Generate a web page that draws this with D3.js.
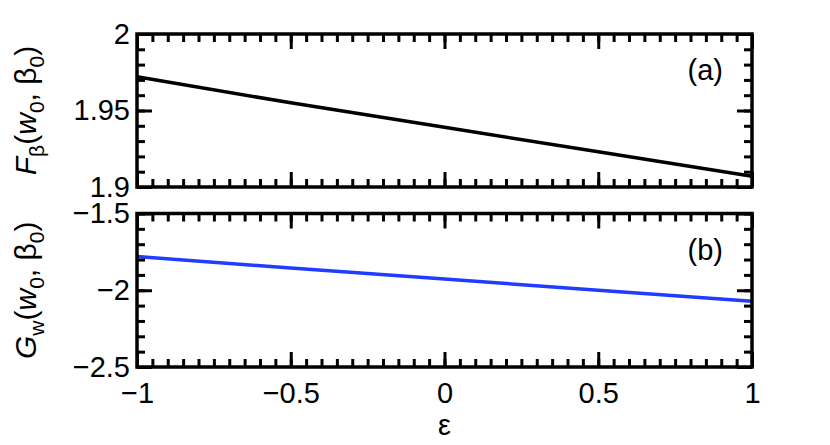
<!DOCTYPE html>
<html lang="en">
<head>
<meta charset="utf-8">
<title>F and G vs epsilon</title>
<script src="https://d3js.org/d3.v7.min.js"></script>
<style>
  body { margin: 0; background: #fff; }
  text { font-family: "Liberation Sans", Arial, sans-serif; fill: #000; }
</style>
</head>
<body>
<div id="chart"></div>
<script>
// values
var eps = [-1, -0.5, 0, 0.5, 1];
var fBeta = [1.972, 1.955, 1.939, 1.923, 1.907];
var gW = [-1.78, -1.855, -1.927, -2.0, -2.072];

var xTicks = [-1, -0.5, 0, 0.5, 1];
var xMinor = d3.range(-1, 1.0001, 0.05);
var fTicks = [1.9, 1.95, 2];
var fMinor = d3.range(1.9, 2.0001, 0.01);
var gTicks = [-2.5, -2, -1.5];
var gMinor = d3.range(-2.5, -1.4999, 0.1);

var width = 830, height = 445;
var left = 137, right = 752;

var svg = d3.select('#chart').append('svg')
  .attr('width', width)
  .attr('height', height);

var x = d3.scaleLinear().domain([-1, 1]).range([left, right]);

var panels = [
  { y: d3.scaleLinear().domain([1.9, 2]).range([187, 34]),
    vals: fBeta, ticks: fTicks, minor: fMinor, color: '#000', tag: '(a)',
    sym: 'F', sub: 'β' },
  { y: d3.scaleLinear().domain([-2.5, -1.5]).range([367, 213.5]),
    vals: gW, ticks: gTicks, minor: gMinor, color: '#1f3cff', tag: '(b)',
    sym: 'G', sub: 'w' }
];

panels.forEach(function(p, i) {
  var top = p.y.range()[1], bot = p.y.range()[0];
  var g = svg.append('g');

  // data line
  g.append('path')
    .datum(eps)
    .attr('fill', 'none')
    .attr('stroke', p.color)
    .attr('stroke-width', 3.5)
    .attr('d', d3.line()
      .x(function(d) { return x(d); })
      .y(function(d, j) { return p.y(p.vals[j]); }));

  function addAxis(axis, tx, ty, size, vals, labels) {
    var a = g.append('g')
      .attr('transform', 'translate(' + tx + ',' + ty + ')')
      .call(axis.tickValues(vals).tickSize(-size)
        .tickFormat(labels ? labels : function() { return ''; }));
    a.select('.domain').remove();
    a.selectAll('line').attr('stroke-width', 3);
    a.selectAll('text').style('font-size', '29px').attr('fill', '#000');
    return a;
  }

  // x ticks, bottom and top, inward
  var showX = i === 1;
  addAxis(d3.axisBottom(x).tickPadding(15), 0, bot, 8, xMinor, null);
  addAxis(d3.axisBottom(x).tickPadding(15), 0, bot, 15, xTicks, showX ? d3.format('') : null);
  addAxis(d3.axisTop(x), 0, top, 8, xMinor, null);
  addAxis(d3.axisTop(x), 0, top, 15, xTicks, null);

  // y ticks, left and right, inward
  addAxis(d3.axisLeft(p.y), left, 0, 8, p.minor, null);
  addAxis(d3.axisLeft(p.y).tickPadding(7), left, 0, 15, p.ticks, d3.format(''));
  addAxis(d3.axisRight(p.y), right, 0, 8, p.minor, null);
  addAxis(d3.axisRight(p.y), right, 0, 15, p.ticks, null);

  // frame
  g.append('rect')
    .attr('x', left).attr('y', top)
    .attr('width', right - left).attr('height', bot - top)
    .attr('fill', 'none')
    .attr('stroke', '#000')
    .attr('stroke-width', 3.5);

  // panel tag
  g.append('text')
    .attr('x', 723).attr('y', top + 46)
    .attr('text-anchor', 'end')
    .style('font-size', '29px')
    .text(p.tag);

  // y label
  var lab = g.append('text')
    .attr('transform', 'translate(36,' + ((top + bot) / 2) + ') rotate(-90)')
    .attr('text-anchor', 'middle')
    .style('font-size', '30px');
  lab.append('tspan').style('font-style', 'italic').text(p.sym);
  lab.append('tspan').attr('dy', 8).style('font-size', '21px').text(p.sub);
  lab.append('tspan').attr('dy', -8).text('(');
  lab.append('tspan').style('font-style', 'italic').text('w');
  lab.append('tspan').attr('dy', 8).style('font-size', '21px').text('0');
  lab.append('tspan').attr('dy', -8).text(', β');
  lab.append('tspan').attr('dy', 8).style('font-size', '21px').text('0');
  lab.append('tspan').attr('dy', -8).text(')');
});

// x label
svg.append('text')
  .attr('x', x(0)).attr('y', 435)
  .attr('text-anchor', 'middle')
  .style('font-size', '29px')
  .text('ε');
</script>
</body>
</html>
